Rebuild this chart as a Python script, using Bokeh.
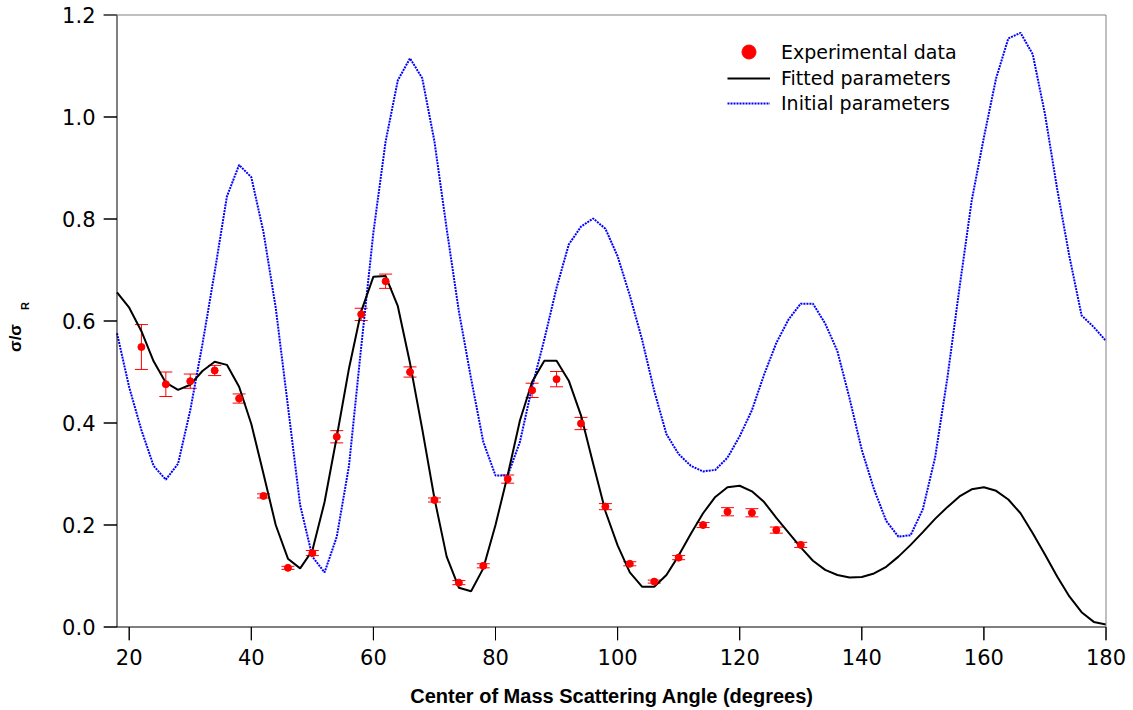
import math
from bokeh.plotting import figure
from bokeh.layouts import row
from bokeh.models import (ColumnDataSource, Whisker, TeeHead, Legend, LegendItem,
                          FixedTicker, NumeralTickFormatter, Range1d, Plot, Text)
from bokeh.core.properties import value
from bokeh.embed import file_html
from bokeh.resources import INLINE

# ---- data ----
exp_angle = [22, 26, 30, 34, 38, 42, 46, 50, 54, 58, 62, 66, 70, 74, 78, 82, 86, 90, 94, 98,
             102, 106, 110, 114, 118, 122, 126, 130]
exp_ratio = [0.549, 0.476, 0.482, 0.503, 0.448, 0.257, 0.116, 0.145, 0.373, 0.613, 0.678, 0.500,
             0.249, 0.087, 0.120, 0.290, 0.464, 0.486, 0.399, 0.236, 0.124, 0.089, 0.136, 0.200,
             0.226, 0.224, 0.190, 0.161]
exp_err = [0.044, 0.024, 0.014, 0.010, 0.009, 0.004, 0.003, 0.005, 0.012, 0.012, 0.014, 0.010,
           0.004, 0.004, 0.004, 0.008, 0.014, 0.015, 0.012, 0.006, 0.004, 0.003, 0.004, 0.005,
           0.008, 0.008, 0.006, 0.005]

curve_angle = list(range(18, 181, 2))
fitted = [0.656, 0.626, 0.580, 0.521, 0.479, 0.465, 0.475, 0.502, 0.520, 0.514,
          0.471, 0.398, 0.300, 0.200, 0.134, 0.115, 0.150, 0.245, 0.373, 0.507,
          0.619, 0.687, 0.688, 0.629, 0.517, 0.388, 0.252, 0.138, 0.077, 0.070,
          0.115, 0.200, 0.298, 0.405, 0.481, 0.522, 0.522, 0.483, 0.415, 0.320,
          0.227, 0.160, 0.107, 0.079, 0.079, 0.102, 0.140, 0.183, 0.223, 0.255,
          0.274, 0.277, 0.266, 0.245, 0.214, 0.185, 0.156, 0.130, 0.112, 0.102,
          0.097, 0.098, 0.105, 0.118, 0.138, 0.161, 0.186, 0.212, 0.235, 0.256,
          0.270, 0.274, 0.267, 0.250, 0.223, 0.184, 0.142, 0.099, 0.060, 0.029,
          0.010, 0.005]
initial = [0.576, 0.470, 0.386, 0.316, 0.289, 0.320, 0.425, 0.555, 0.696, 0.844,
           0.906, 0.882, 0.774, 0.626, 0.433, 0.239, 0.138, 0.107, 0.177, 0.316,
           0.549, 0.774, 0.952, 1.072, 1.115, 1.076, 0.952, 0.781, 0.619, 0.487,
           0.363, 0.297, 0.297, 0.363, 0.471, 0.564, 0.665, 0.750, 0.785, 0.801,
           0.781, 0.727, 0.650, 0.564, 0.463, 0.378, 0.339, 0.316, 0.305, 0.308,
           0.332, 0.374, 0.425, 0.495, 0.557, 0.603, 0.634, 0.634, 0.595, 0.541,
           0.448, 0.347, 0.270, 0.208, 0.177, 0.180, 0.231, 0.332, 0.487, 0.665,
           0.836, 0.960, 1.076, 1.154, 1.165, 1.123, 1.006, 0.859, 0.727, 0.611,
           0.588, 0.561]

x_ticks = [20, 40, 60, 80, 100, 120, 140, 160, 180]
y_ticks = [0.0, 0.2, 0.4, 0.6, 0.8, 1.0, 1.2]
x_min, x_max = 18, 180
y_min, y_max = 0.0, 1.2

x_label = "Center of Mass Scattering Angle (degrees)"
y_label_main = "σ/σ"
y_label_sub = "R"
legend_labels = ["Experimental data", "Fitted parameters", "Initial parameters"]

# ---- geometry (pixels) ----
SIDE_W = 40
AREA_W, AREA_H = 989, 612          # data area size in px
TICK = 13.5                        # outward tick length in px
PAD_TOP = 1.5
PAD_RIGHT = 14.5                   # symmetric with the left tick room -> centred x title
px_x = AREA_W / (x_max - x_min)
px_y = AREA_H / (y_max - y_min)
x_start = x_min - TICK / px_x
x_end = x_max + PAD_RIGHT / px_x
y_start = y_min - TICK / px_y
y_end = y_max + PAD_TOP / px_y

# ---- side strip holding the rotated y title (sigma / sigma_R); units = screen px ----
side = Plot(width=SIDE_W, height=710, x_range=Range1d(0, SIDE_W), y_range=Range1d(640, 13),
            output_backend="svg", toolbar_location=None, min_border=0,
            outline_line_color=None, border_fill_color=None,
            background_fill_color=None, title=None)
side.add_glyph(ColumnDataSource(dict(x=[14.7], y=[337.5], t=[y_label_main])),
               Text(x="x", y="y", text="t", angle=math.pi / 2,
                    text_align="center", text_baseline="middle",
                    text_font=value("Liberation Sans"), text_font_style="bold",
                    text_font_size="17px", text_color="black"))
side.add_glyph(ColumnDataSource(dict(x=[24], y=[305.5], t=[y_label_sub])),
               Text(x="x", y="y", text="t", angle=math.pi / 2,
                    text_align="center", text_baseline="middle",
                    text_font=value("Liberation Sans"), text_font_style="bold",
                    text_font_size="11px", text_color="black"))

# ---- main figure ----
p = figure(width=1133 - SIDE_W, height=710, x_range=Range1d(x_start, x_end),
           y_range=Range1d(y_start, y_end),
           output_backend="svg", toolbar_location=None,
           min_border_left=63, min_border_right=13, min_border_top=13, min_border_bottom=70)
p.grid.visible = False
p.outline_line_color = None
p.background_fill_color = None
p.border_fill_color = None

exp_src = ColumnDataSource(dict(
    x=exp_angle, y=exp_ratio,
    lo=[v - e for v, e in zip(exp_ratio, exp_err)],
    hi=[v + e for v, e in zip(exp_ratio, exp_err)]))
curve_src = ColumnDataSource(dict(x=curve_angle, fit=fitted, init=initial))

init_r = p.line("x", "init", source=curve_src, line_color="#0000ff", line_width=2,
                line_dash="2 1")
fit_r = p.line("x", "fit", source=curve_src, line_color="black", line_width=2)

whisk = Whisker(base="x", lower="lo", upper="hi", source=exp_src, dimension="height",
                line_color="#ff0000", line_width=1,
                upper_head=TeeHead(size=13, line_color="#ff0000", line_width=1),
                lower_head=TeeHead(size=13, line_color="#ff0000", line_width=1))
p.add_layout(whisk)
exp_r = p.scatter("x", "y", source=exp_src, marker="circle", size=7,
                  fill_color="#ff0000", line_color="#ff0000")

# axis rules, outward ticks and frame, built from the tick arrays
ytick_src = ColumnDataSource(dict(x0=[x_start] * len(y_ticks), x1=[x_min] * len(y_ticks),
                                  xm=[x_min - TICK / 2 / px_x] * len(y_ticks), y=y_ticks))
xtick_src = ColumnDataSource(dict(x=x_ticks, y0=[y_start] * len(x_ticks),
                                  y1=[y_min] * len(x_ticks),
                                  ym=[y_min - TICK / 2 / px_y] * len(x_ticks)))
p.segment(x0="x0", y0="y", x1="x1", y1="y", source=ytick_src, line_color="black", line_width=1)
p.segment(x0="x", y0="y0", x1="x", y1="y1", source=xtick_src, line_color="black", line_width=1)
# filled thin rectangles as a second rendering of the same ticks
p.rect(x="xm", y="y", width=TICK / px_x, height=1.0 / px_y, source=ytick_src,
       fill_color="black", line_color=None)
p.rect(x="x", y="ym", width=1.0 / px_x, height=TICK / px_y, source=xtick_src,
       fill_color="black", line_color=None)
p.segment(x0=[x_min], y0=[y_min], x1=[x_min], y1=[y_max], line_color="black", line_width=1)
p.segment(x0=[x_min], y0=[y_min], x1=[x_max], y1=[y_min], line_color="black", line_width=1)
p.segment(x0=[x_start], y0=[y_max], x1=[x_max], y1=[y_max], line_color="#808080", line_width=1)
p.segment(x0=[x_max], y0=[y_min], x1=[x_max], y1=[y_max], line_color="#808080", line_width=1)

# built-in axes only carry the labels
for ax in (p.xaxis[0], p.yaxis[0]):
    ax.axis_line_color = None
    ax.major_tick_line_color = None
    ax.minor_tick_line_color = None
    ax.major_tick_in = 0
    ax.major_tick_out = 0
    ax.minor_tick_in = 0
    ax.minor_tick_out = 0
    ax.major_label_text_font = "DejaVu Sans"
    ax.major_label_text_font_size = "21px"
    ax.major_label_text_color = "black"
    ax.major_label_standoff = 8

p.xaxis.ticker = FixedTicker(ticks=x_ticks, minor_ticks=[])
p.yaxis.ticker = FixedTicker(ticks=y_ticks, minor_ticks=[])
p.yaxis.formatter = NumeralTickFormatter(format="0.0")
p.xaxis.axis_label = x_label
p.xaxis.axis_label_text_font = "Liberation Sans"
p.xaxis.axis_label_text_font_style = "bold"
p.xaxis.axis_label_text_font_size = "20px"
p.xaxis.axis_label_text_color = "black"
p.xaxis.axis_label_standoff = 17

# legend: one single-item legend per row so the marker can be drawn larger
legend_common = dict(glyph_width=43, padding=0, margin=0, label_standoff=11, label_height=20,
                     border_line_color=None, background_fill_alpha=0,
                     label_text_font="DejaVu Sans", label_text_font_size="19px",
                     label_text_color="black")
p.add_layout(Legend(items=[LegendItem(label=legend_labels[0], renderers=[exp_r])],
                    location=(624, 571), glyph_height=35, **legend_common))
p.add_layout(Legend(items=[LegendItem(label=legend_labels[1], renderers=[fit_r])],
                    location=(624, 549), glyph_height=26, **legend_common))
p.add_layout(Legend(items=[LegendItem(label=legend_labels[2], renderers=[init_r])],
                    location=(624, 524), glyph_height=26, **legend_common))

layout = row(side, p)
open("out.html", "w").write(file_html(layout, INLINE))
